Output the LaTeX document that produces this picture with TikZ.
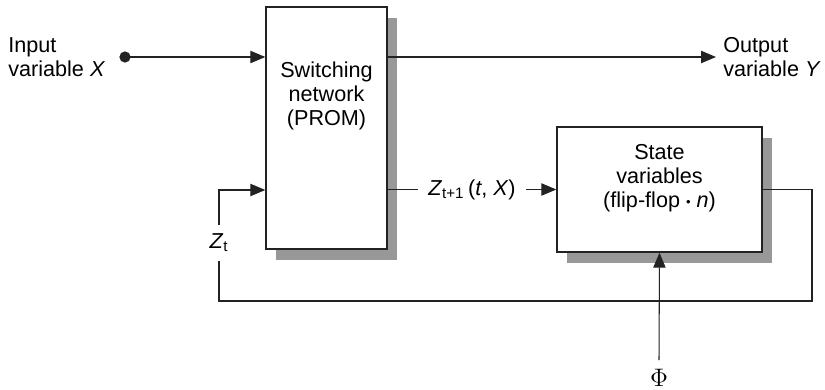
\documentclass[tikz,border=0pt]{standalone}
\usepackage{fontspec}
\setmainfont{Liberation Sans}
\usepackage{tikz}
\usetikzlibrary{arrows.meta,positioning,shadows,calc}
\definecolor{FSMShade}{HTML}{989898}
\definecolor{FSMLine}{HTML}{222222}
\begin{document}
\begin{tikzpicture}[x=0.02cm,y=-0.02cm,>={Triangle[length=8.5pt,width=7pt]},
  font=\fontsize{12.3}{13.8}\selectfont,
  block/.style={draw=FSMLine,line width=0.8pt,fill=white,
    drop shadow={shadow xshift=0.2cm,shadow yshift=-0.22cm,fill=FSMShade,opacity=1}},
  wire/.style={draw=FSMLine,line width=0.6pt},
  txt/.style={align=center,inner sep=2pt}]
\useasboundingbox (0,0) rectangle (825,389);
\node[block,minimum width=2.42cm,minimum height=4.84cm] (sw) at (326.5,128) {};
\node[txt] (swtext) at (326.5,96) {Switching\\network\\(PROM)};
\node[block,minimum width=4.1cm,minimum height=2.5cm] (st) at (659.5,189.5) {};
\node[txt] (sttext) at (659.5,178) {State\\variables\\(flip-flop \raisebox{0.05ex}{\scalebox{0.6}{\textbullet}} \textit{n})};
\coordinate (in) at (125,57);
\node[align=left,anchor=west,inner sep=0pt] (inlbl) at (8,57) {Input\\variable \textit{X}};
\node[align=left,anchor=west,inner sep=4pt] (outlbl) at (716,57) {Output\\variable \textit{Y}};
\coordinate (fbc) at (812,301);
\coordinate (fbl) at (219,190);
\node[inner sep=0pt,font=\fontsize{15}{16}\selectfont] (phi) at (659,378) {$\Phi$};
% input and output
\fill[FSMLine] (in) circle (3.2pt);
\draw[wire,->] (in) -- (sw.west |- in);
\draw[wire,->] (sw.east |- in) -- (outlbl.west);
% next state
\draw[wire,->] (sw.east |- st.west) -- node[fill=white,inner xsep=6pt] (znext) {\textit{Z}\textsubscript{t+1}\,(\textit{t}, \textit{X})} (st.west);
% feedback
\draw[wire,->] (st.east) -| (fbc) -| (fbl) -- (sw.west |- fbl);
\node[fill=white,inner xsep=2pt,inner ysep=5pt] (zt) at (219,243) {\textit{Z}\textsubscript{t}};
% clock
\draw[wire,->] ([yshift=5pt]phi.north) -- (st.south);
\end{tikzpicture}
\end{document}
